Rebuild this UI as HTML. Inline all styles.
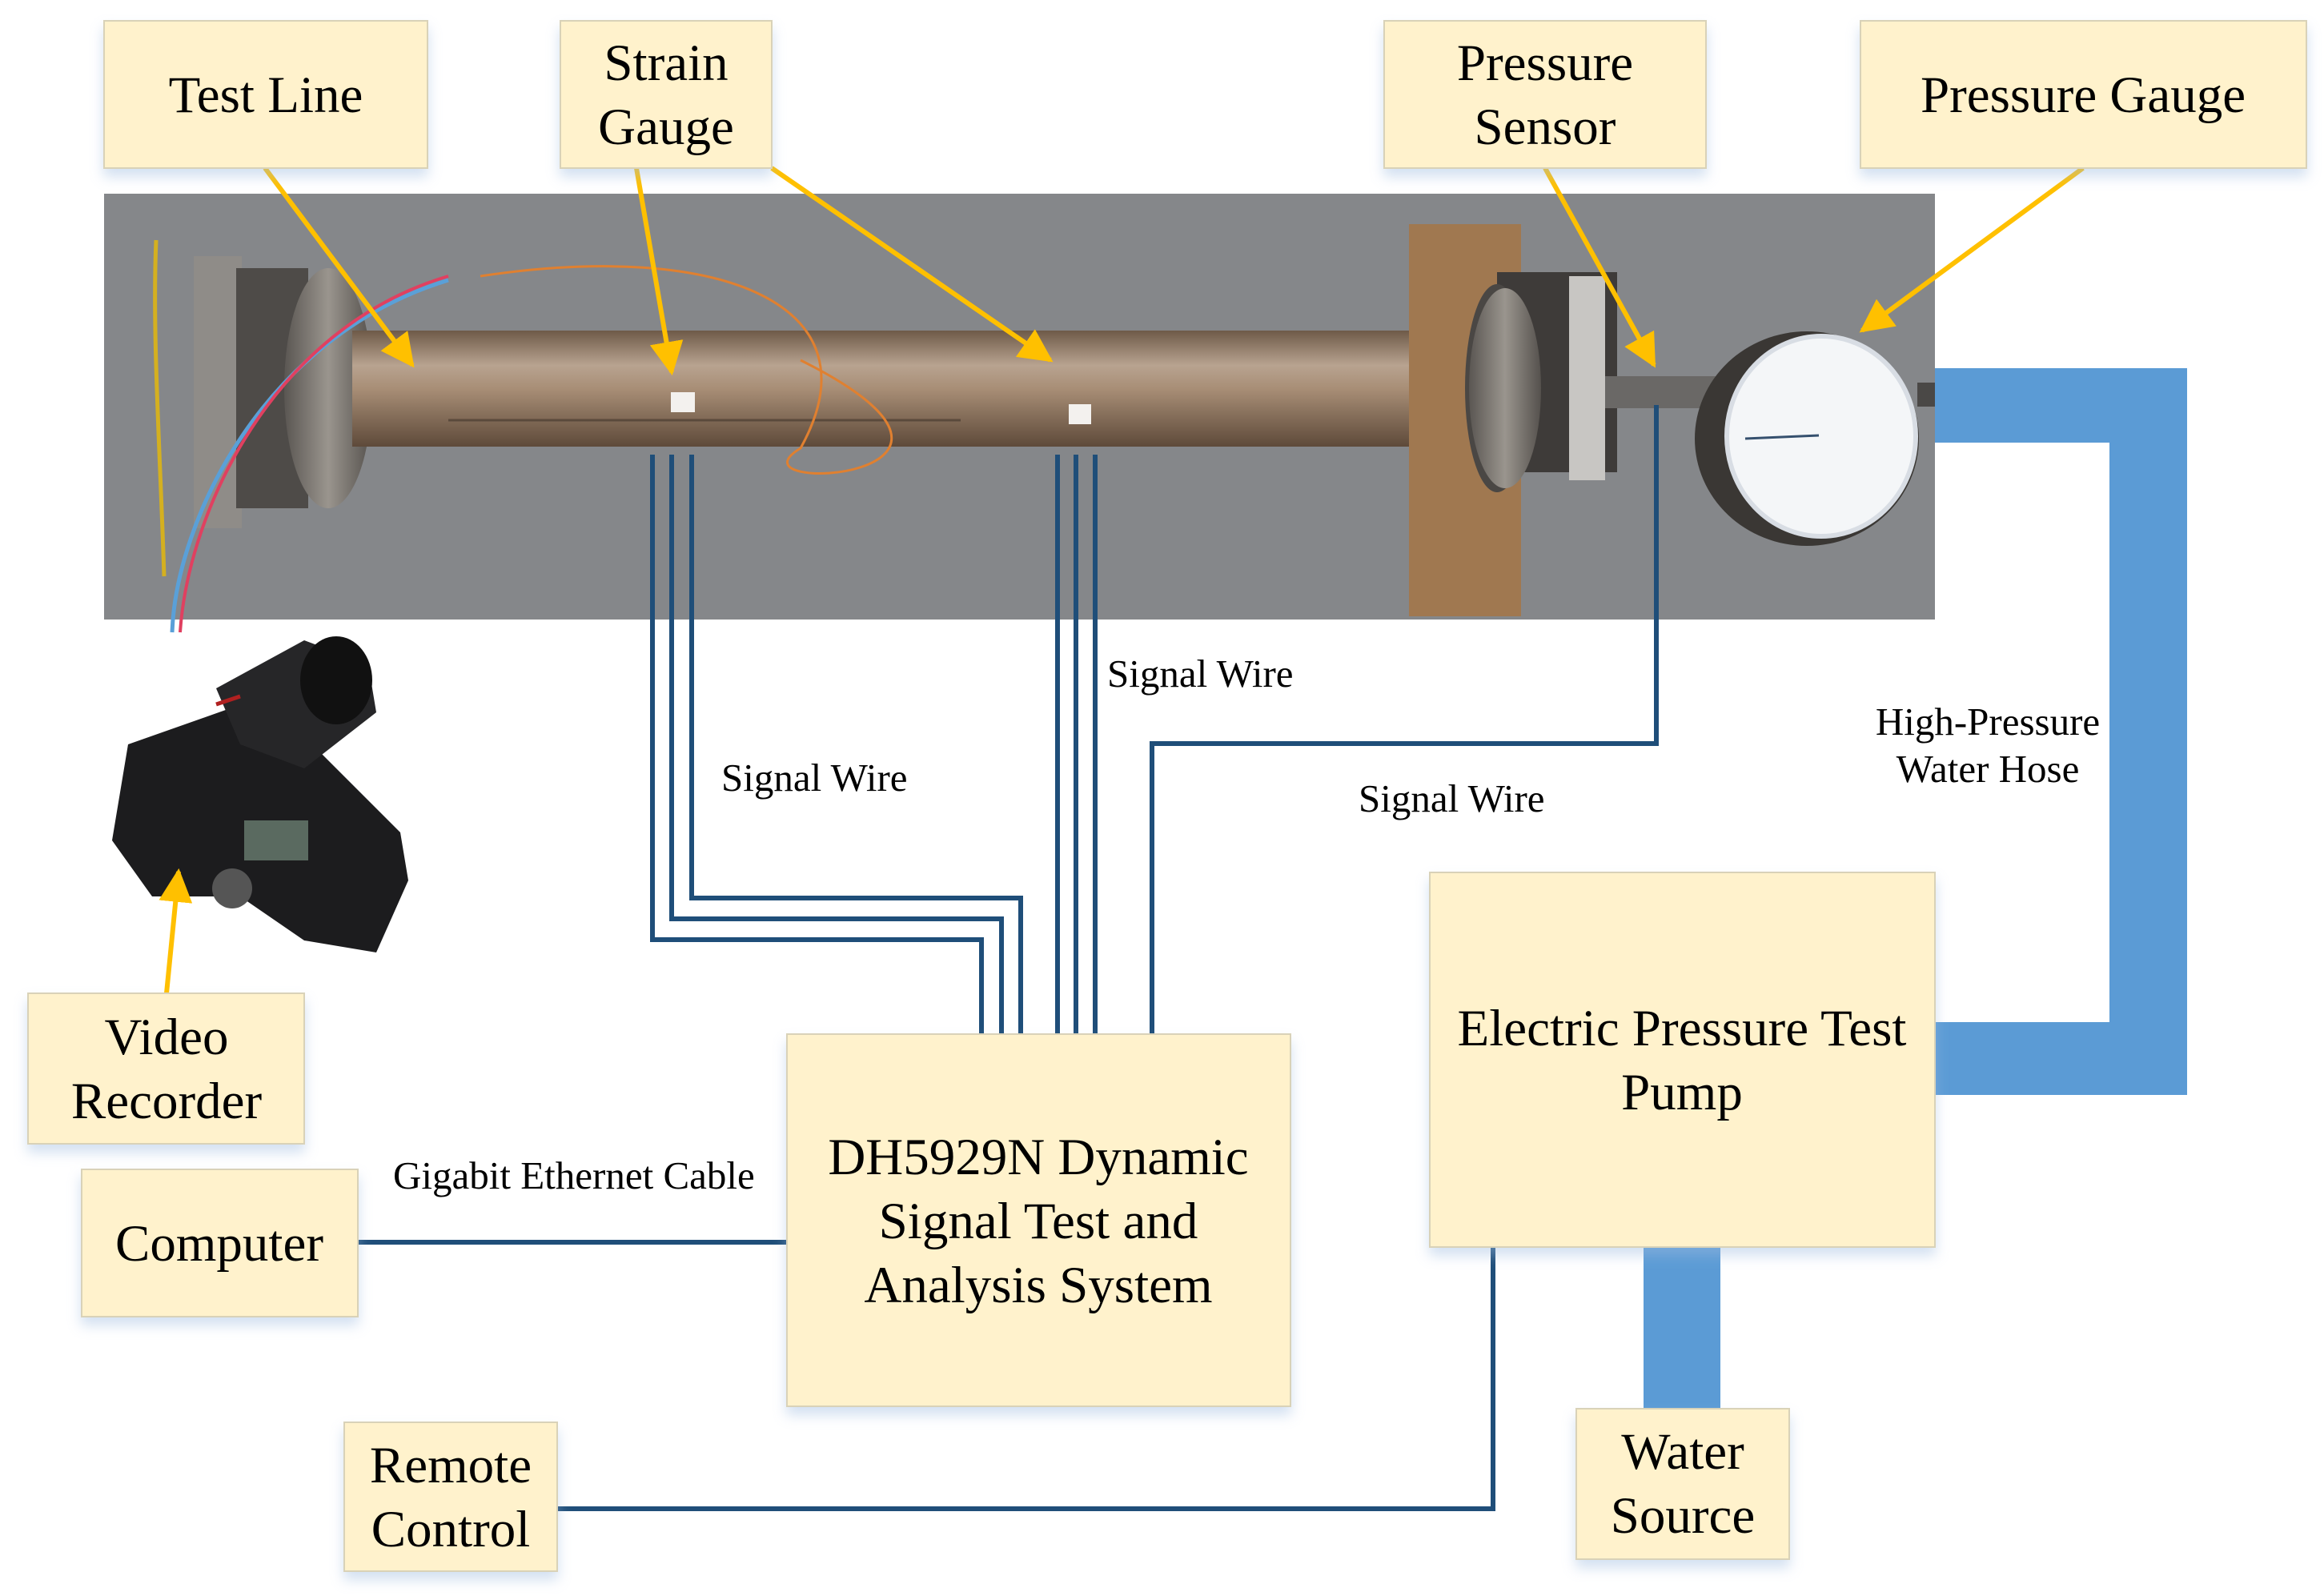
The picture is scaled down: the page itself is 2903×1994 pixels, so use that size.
<!DOCTYPE html>
<html><head><meta charset="utf-8"><style>
html,body{margin:0;padding:0;background:#fff}
svg{display:block}
text{font-family:"Liberation Serif",serif;fill:#000}
</style></head><body>
<svg width="2903" height="1994" viewBox="0 0 2903 1994" xmlns="http://www.w3.org/2000/svg">
<defs>
<filter id="sh" x="-10%" y="-10%" width="120%" height="130%"><feDropShadow dx="0" dy="10" stdDeviation="8" flood-color="#9dbbe0" flood-opacity="0.45"/></filter>
<linearGradient id="pipe" x1="0" y1="0" x2="0" y2="1">
<stop offset="0" stop-color="#6e5a48"/><stop offset="0.3" stop-color="#b8a390"/><stop offset="0.5" stop-color="#a88e76"/><stop offset="1" stop-color="#5e4a3a"/></linearGradient>
<linearGradient id="fl" x1="0" y1="0" x2="1" y2="0"><stop offset="0" stop-color="#5a5652"/><stop offset="0.5" stop-color="#9a958e"/><stop offset="1" stop-color="#55514d"/></linearGradient>
<marker id="ah" viewBox="0 0 10 10" refX="9" refY="5" markerWidth="7" markerHeight="7" orient="auto"><path d="M0,0 L10,5 L0,10 z" fill="#ffc000"/></marker>
</defs>

<rect x="130" y="242" width="2287" height="532" fill="#85878a"/>
<rect x="242" y="320" width="60" height="340" fill="#8f8c88"/>
<rect x="295" y="335" width="90" height="300" fill="#4e4b48"/>
<ellipse cx="410" cy="485" rx="55" ry="150" fill="url(#fl)"/>
<rect x="440" y="413" width="1420" height="145" fill="url(#pipe)"/>
<line x1="560" y1="525" x2="1200" y2="525" stroke="#5a4a3c" stroke-width="3"/>
<rect x="1760" y="280" width="140" height="490" fill="#a07850"/>
<rect x="1870" y="340" width="150" height="250" fill="#3e3b39"/>
<ellipse cx="1870" cy="485" rx="40" ry="130" fill="#4a4744"/>
<ellipse cx="1880" cy="485" rx="45" ry="125" fill="url(#fl)"/>
<rect x="1960" y="345" width="45" height="255" fill="#c8c6c3"/>
<rect x="2005" y="470" width="140" height="40" fill="#6a6866"/>
<ellipse cx="2257" cy="548" rx="140" ry="134" fill="#3a3734"/>
<ellipse cx="2275" cy="545" rx="118" ry="125" fill="#f4f6f8" stroke="#d8dde4" stroke-width="6"/>
<line x1="2180" y1="548" x2="2272" y2="544" stroke="#35506e" stroke-width="3"/>
<rect x="2395" y="478" width="22" height="30" fill="#4a4846"/>
<path d="M215,790 C220,650 330,420 560,350" stroke="#5aa0d8" stroke-width="5" fill="none"/>
<path d="M225,790 C235,640 340,410 560,345" stroke="#e04060" stroke-width="4" fill="none"/>
<path d="M205,720 C200,560 190,420 195,300" stroke="#d4b020" stroke-width="5" fill="none"/>
<path d="M600,345 C900,300 1100,380 1000,560 C900,620 1300,600 1000,450" stroke="#e08030" stroke-width="3" fill="none"/>
<rect x="838" y="490" width="30" height="25" fill="#f3f1ee"/>
<rect x="1335" y="505" width="28" height="25" fill="#f3f1ee"/>

<g fill="#5b9bd5">
<rect x="2417" y="460" width="315" height="93"/>
<rect x="2635" y="460" width="97" height="908"/>
<rect x="2417" y="1277" width="315" height="91"/>
<rect x="2053" y="1558" width="96" height="202"/>
</g>

<g stroke="#1f4e79" stroke-width="6" fill="none">
<polyline points="815,568 815,1174 1226,1174 1226,1292"/>
<polyline points="839,568 839,1148 1251,1148 1251,1292"/>
<polyline points="864,568 864,1122 1275,1122 1275,1292"/>
<line x1="1321" y1="568" x2="1321" y2="1292"/>
<line x1="1344" y1="568" x2="1344" y2="1292"/>
<line x1="1368" y1="568" x2="1368" y2="1292"/>
<polyline points="2069,506 2069,929 1439,929 1439,1292"/>
<line x1="447" y1="1552" x2="983" y2="1552"/>
<polyline points="1865,1558 1865,1885 696,1885"/>
</g>

<g>
<path d="M160,930 L330,870 L420,960 L500,1040 L510,1100 L470,1190 L380,1175 L300,1120 L190,1120 L140,1050 Z" fill="#1c1c1e"/>
<path d="M270,860 L380,800 L460,830 L470,890 L380,960 L300,930 Z" fill="#262628"/>
<ellipse cx="420" cy="850" rx="45" ry="55" fill="#111"/>
<rect x="305" y="1025" width="80" height="50" fill="#5a6a60"/>
<circle cx="290" cy="1110" r="25" fill="#555"/>
<path d="M270,880 L300,870" stroke="#b02020" stroke-width="5"/>
</g>

<g stroke="#ffc000" stroke-width="6" marker-end="url(#ah)" fill="none">
<line x1="331" y1="210" x2="515" y2="456"/>
<line x1="795" y1="210" x2="839" y2="465"/>
<line x1="964" y1="210" x2="1312" y2="450"/>
<line x1="1930" y1="210" x2="2066" y2="456"/>
<line x1="2602" y1="210" x2="2326" y2="413"/>
<line x1="208" y1="1241" x2="223" y2="1089"/>
</g>

<g fill="#fff2cc" stroke="#d9d2b8" stroke-width="2" filter="url(#sh)">
<rect x="130" y="26" width="404" height="184"/>
<rect x="700" y="26" width="264" height="184"/>
<rect x="1729" y="26" width="402" height="184"/>
<rect x="2324" y="26" width="557" height="184"/>
<rect x="35" y="1241" width="345" height="188"/>
<rect x="102" y="1461" width="345" height="184"/>
<rect x="983" y="1292" width="629" height="465"/>
<rect x="430" y="1777" width="266" height="186"/>
<rect x="1786" y="1090" width="631" height="468"/>
<rect x="1969" y="1760" width="266" height="188"/>
</g>

<g font-size="65" text-anchor="middle">
<text x="332" y="140">Test Line</text>
<text x="832" y="100">Strain</text><text x="832" y="180">Gauge</text>
<text x="1930" y="100">Pressure</text><text x="1930" y="180">Sensor</text>
<text x="2602" y="140">Pressure Gauge</text>
<text x="208" y="1317">Video</text><text x="208" y="1397">Recorder</text>
<text x="274" y="1575">Computer</text>
<text x="1297" y="1467">DH5929N Dynamic</text>
<text x="1297" y="1547">Signal Test and</text>
<text x="1297" y="1627">Analysis System</text>
<text x="563" y="1852">Remote</text><text x="563" y="1932">Control</text>
<text x="2101" y="1306">Electric Pressure Test</text>
<text x="2101" y="1386">Pump</text>
<text x="2102" y="1835">Water</text><text x="2102" y="1915">Source</text>
</g>
<g font-size="49">
<text x="901" y="988">Signal Wire</text>
<text x="1383" y="858">Signal Wire</text>
<text x="1697" y="1014">Signal Wire</text>
<text x="491" y="1485">Gigabit Ethernet Cable</text>
<text x="2483" y="918" text-anchor="middle">High-Pressure</text>
<text x="2483" y="977" text-anchor="middle">Water Hose</text>
</g>
</svg>
</body></html>
